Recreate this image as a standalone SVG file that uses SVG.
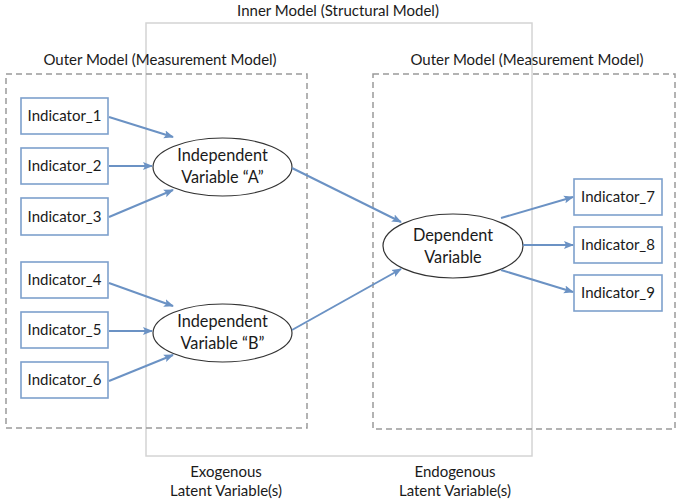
<svg xmlns="http://www.w3.org/2000/svg" width="681" height="504" viewBox="0 0 681 504">
<style>
text{font-family:Lato,"Open Sans","Liberation Sans",sans-serif;fill:#1a1a1a;font-size:15px;text-anchor:middle}
text.big{font-size:16.3px}
.ind{fill:#fff;stroke:#7da0cc;stroke-width:1.6}
.lv{fill:#fff;stroke:#333;stroke-width:1.2}
.dash{fill:none;stroke:#9a9a9a;stroke-width:1.5;stroke-dasharray:6 4}
.inner{fill:none;stroke:#d4d4d4;stroke-width:1.5}
.arr{fill:none;stroke:#6b92c4;stroke-width:2;marker-end:url(#ah)}
</style>
<defs>
<marker id="ah" viewBox="0 0 10 10" refX="9" refY="5" markerWidth="5" markerHeight="5" orient="auto" markerUnits="strokeWidth">
<path d="M0,1 L10,5 L0,9 L2,5 Z" fill="#6b92c4"/>
</marker>
</defs>
<rect width="681" height="504" fill="#fff"/>
<g id="inner-model">
<rect class="inner" x="146" y="23" width="386" height="433"/>
<text x="338" y="16">Inner Model (Structural Model)</text>
</g>
<g id="outer-left">
<rect class="dash" x="6" y="74" width="301" height="354"/>
<text x="160" y="65">Outer Model (Measurement Model)</text>
</g>
<g id="outer-right">
<rect class="dash" x="373" y="74" width="302" height="355"/>
<text x="527" y="65">Outer Model (Measurement Model)</text>
</g>
<g id="ind1"><rect class="ind" x="21" y="98" width="87" height="36"/><text x="64.5" y="121">Indicator_1</text></g>
<g id="ind2"><rect class="ind" x="21" y="148" width="87" height="36"/><text x="64.5" y="171">Indicator_2</text></g>
<g id="ind3"><rect class="ind" x="21" y="198" width="87" height="37"/><text x="64.5" y="222">Indicator_3</text></g>
<g id="ind4"><rect class="ind" x="21" y="262" width="87" height="36"/><text x="64.5" y="285">Indicator_4</text></g>
<g id="ind5"><rect class="ind" x="21" y="312" width="87" height="36"/><text x="64.5" y="335">Indicator_5</text></g>
<g id="ind6"><rect class="ind" x="21" y="362" width="87" height="36"/><text x="64.5" y="385">Indicator_6</text></g>
<g id="ind7"><rect class="ind" x="574" y="179" width="88" height="36"/><text x="618" y="202">Indicator_7</text></g>
<g id="ind8"><rect class="ind" x="574" y="227" width="88" height="36"/><text x="618" y="250">Indicator_8</text></g>
<g id="ind9"><rect class="ind" x="574" y="275" width="88" height="36"/><text x="618" y="298">Indicator_9</text></g>
<g id="lvA"><ellipse class="lv" cx="222.5" cy="167" rx="69.5" ry="29"/><text class="big" x="222.5" y="161">Independent</text><text class="big" x="222.5" y="183">Variable “A”</text></g>
<g id="lvB"><ellipse class="lv" cx="222.5" cy="333" rx="69.5" ry="29"/><text class="big" x="222.5" y="327">Independent</text><text class="big" x="222.5" y="349">Variable “B”</text></g>
<g id="lvDep"><ellipse class="lv" cx="453" cy="246" rx="70" ry="32"/><text class="big" x="453" y="241">Dependent</text><text class="big" x="453" y="263">Variable</text></g>
<g id="connectors">
<line class="arr" x1="109" y1="117" x2="173" y2="137"/>
<line class="arr" x1="109" y1="166" x2="152" y2="166"/>
<line class="arr" x1="109" y1="217" x2="173" y2="190"/>
<line class="arr" x1="109" y1="283" x2="173" y2="306"/>
<line class="arr" x1="109" y1="331" x2="152" y2="331"/>
<line class="arr" x1="109" y1="381" x2="173" y2="355"/>
<line class="arr" x1="292" y1="168" x2="401" y2="222"/>
<line class="arr" x1="292" y1="330" x2="401" y2="269"/>
<line class="arr" x1="501" y1="218" x2="573" y2="197"/>
<line class="arr" x1="523" y1="245" x2="573" y2="245"/>
<line class="arr" x1="501" y1="270" x2="573" y2="292"/>
</g>
<g id="labels">
<text x="226" y="477">Exogenous</text>
<text x="226" y="496">Latent Variable(s)</text>
<text x="455" y="477">Endogenous</text>
<text x="455" y="496">Latent Variable(s)</text>
</g>
</svg>
